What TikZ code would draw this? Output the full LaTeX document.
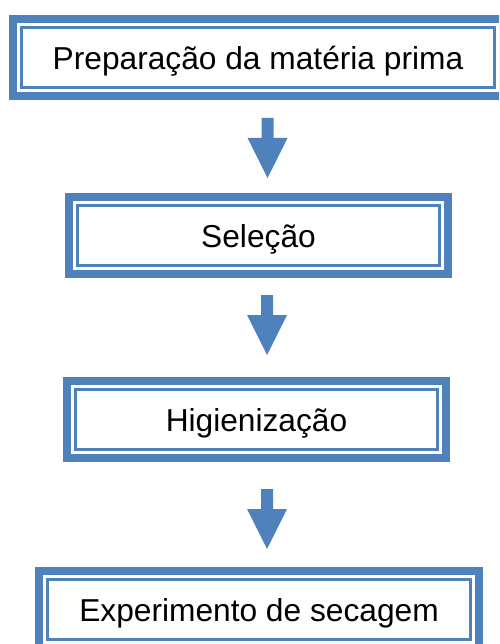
\documentclass[tikz,border=0pt]{standalone}
\usepackage{fontspec}
\setmainfont{Liberation Sans}
\definecolor{frameblue}{HTML}{4F81BD}
\tikzset{
  stage/.style={draw=frameblue, line width=8pt, outer sep=0pt, inner sep=0pt,
    fill=white, minimum height=77pt, text height=24pt, text depth=0pt,
    font=\fontsize{31.7}{38}\selectfont},
  innerrule/.style={draw=frameblue, line width=3pt},
  down arrow/.pic={
    \fill[frameblue] (-6,0) -- (6,0) -- (6,20) -- (20,20) -- (0,60)
      -- (-20,20) -- (-6,20) -- cycle;
  }
}
\newcommand{\stagerule}[1]{%
  \draw[innerrule] ([shift={(8.5,8.5)}]#1.north west)
    rectangle ([shift={(-8.5,-8.5)}]#1.south east);}
\begin{document}
\begin{tikzpicture}[x=1pt,y=-1pt]
\useasboundingbox (0,0) rectangle (499,644);
\clip (0,0) rectangle (499,644);

% process steps
\node[stage, minimum width=490pt] (prep) at (258,57.5) {Preparação da matéria prima};
\node[stage, minimum width=379pt] (sel)  at (258.5,235.5) {Seleção};
\node[stage, minimum width=379pt] (hig)  at (256.5,419.5) {Higienização};
\node[stage, minimum width=440pt] (exp)  at (259,609.5) {Experimento de secagem};

\stagerule{prep}
\stagerule{sel}
\stagerule{hig}
\stagerule{exp}

% block arrows between steps
\pic at (267.5,118) {down arrow};
\pic at (267,295) {down arrow};
\pic at (267,489) {down arrow};
\end{tikzpicture}
\end{document}
